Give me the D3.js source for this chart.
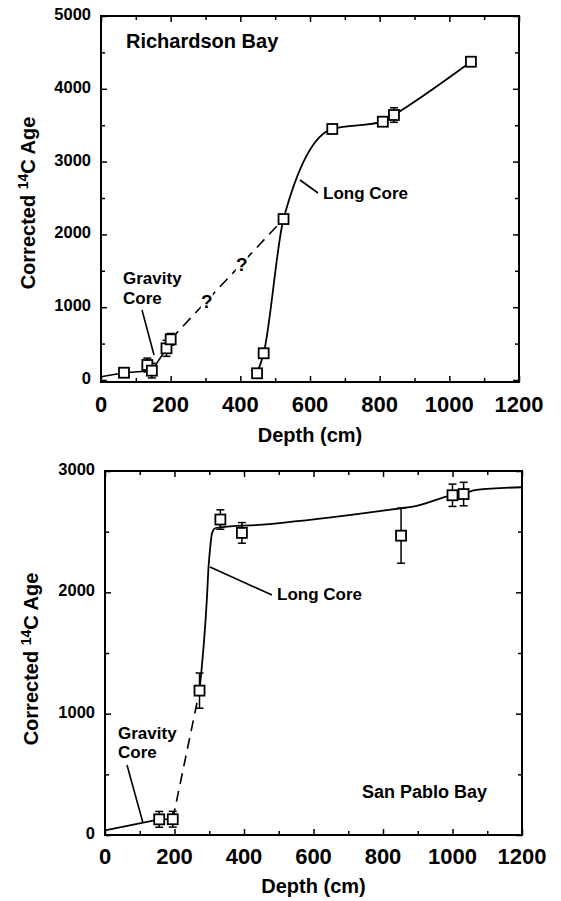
<!DOCTYPE html>
<html>
<head>
<meta charset="utf-8">
<script src="https://cdn.jsdelivr.net/npm/d3@7"></script>
<style>
  html, body { margin: 0; padding: 0; background: #fff; }
  svg { display: block; font-family: "Liberation Sans", Arial, Helvetica, sans-serif; }
</style>
</head>
<body>
<svg id="fig" width="561" height="901"></svg>
<script>
// ---------- Richardson Bay ----------
// dated samples, gravity core
const rbGravDepth = [66, 133, 146, 188, 200];
const rbGravAge   = [100, 206, 128, 435, 559];
const rbGravErr   = [40, 95, 100, 110, 80];
// dated samples, long core
const rbLongDepth = [448, 467, 524, 664, 809, 841, 1062];
const rbLongAge   = [92, 367, 2211, 3448, 3548, 3640, 4372];
const rbLongErr   = [40, 40, 0, 50, 60, 100, 60];
// age-depth lines
const rbGravLineDepth = [0, 66, 146, 188, 200];
const rbGravLineAge   = [45, 100, 128, 435, 559];
const rbLinkDepth = [200, 524];
const rbLinkAge   = [559, 2211];
const rbLongLineDepth = [448, 467, 524, 664, 809, 841, 1062];
const rbLongLineAge   = [92, 367, 2211, 3448, 3548, 3640, 4372];
const rbQuestionAt = [0.32, 0.63];   // fractions along the inferred link
const rbYTicks = [0, 1000, 2000, 3000, 4000, 5000];

// ---------- San Pablo Bay ----------
const spGravDepth = [156, 195];
const spGravAge   = [129, 130];
const spGravErr   = [65, 65];
const spLongDepth = [272, 332, 394, 852, 1000, 1032];
const spLongAge   = [1190, 2600, 2490, 2467, 2800, 2810];
const spLongErr   = [145, 80, 85, 227, 92, 97];
const spGravLineDepth = [0, 156, 195];
const spGravLineAge   = [38, 129, 130];
const spLinkDepth = [195, 272];
const spLinkAge   = [130, 1190];
const spLongLineDepth = [272, 293, 298, 303, 308, 317, 332, 442, 703, 852, 886, 1000, 1032, 1069, 1200];
const spLongLineAge   = [1190, 1937, 2211, 2376, 2487, 2528, 2536, 2556, 2637, 2693, 2706, 2802, 2816, 2844, 2866];
const spYTicks = [0, 1000, 2000, 3000];

const xTicks = [0, 200, 400, 600, 800, 1000, 1200];

const svg = d3.select("#fig");
const zip = (a, b) => a.map((v, i) => [v, b[i]]);

function panel(c) {
  const x = d3.scaleLinear().domain([0, 1200]).range([c.left, c.right]);
  const y = d3.scaleLinear().domain([0, c.yMax]).range([c.zeroY, c.top]);
  const g = svg.append("g");

  // frame
  g.append("rect")
    .attr("x", c.left).attr("y", c.top)
    .attr("width", c.right - c.left).attr("height", c.bottom - c.top)
    .attr("fill", "none").attr("stroke", "#000").attr("stroke-width", 2);

  const minorX = d3.range(100, 1200, 200);
  const minorY = d3.range(500, c.yMax, 1000);
  const tickMarks = (axisFn, scale, vals, size, tx, ty) => {
    g.append("g").attr("transform", `translate(${tx},${ty})`)
      .call(axisFn(scale).tickValues(vals).tickSize(size).tickFormat(""))
      .call(s => s.select(".domain").remove())
      .selectAll("line").attr("stroke-width", 1.5);
  };
  tickMarks(d3.axisBottom, x, xTicks, -6, 0, c.bottom);
  tickMarks(d3.axisBottom, x, minorX, -4, 0, c.bottom);
  tickMarks(d3.axisTop, x, xTicks, -6, 0, c.top);
  tickMarks(d3.axisTop, x, minorX, -4, 0, c.top);
  tickMarks(d3.axisLeft, y, c.yTicks, -6, c.left, 0);
  tickMarks(d3.axisLeft, y, minorY, -4, c.left, 0);
  tickMarks(d3.axisRight, y, c.yTicks, -6, c.right, 0);
  tickMarks(d3.axisRight, y, minorY, -4, c.right, 0);

  // tick labels
  g.append("g").selectAll("text").data(xTicks).join("text")
    .attr("x", d => x(d)).attr("y", c.xLabelY)
    .attr("text-anchor", "middle").attr("font-size", 22).attr("font-weight", "bold")
    .text(d => d);
  g.append("g").selectAll("text").data(c.yTicks).join("text")
    .attr("x", c.left - 10).attr("y", d => y(d) + 4)
    .attr("text-anchor", "end").attr("font-size", 16.5).attr("font-weight", "bold")
    .text(d => d);

  // axis titles
  g.append("text").attr("x", (c.left + c.right) / 2).attr("y", c.xTitleY)
    .attr("text-anchor", "middle").attr("font-size", 20).attr("font-weight", "bold")
    .text("Depth (cm)");
  const yt = g.append("text")
    .attr("transform", `translate(${c.yTitleX},${c.yTitleY}) rotate(-90)`)
    .attr("text-anchor", "middle").attr("font-size", 20).attr("font-weight", "bold");
  yt.append("tspan").text("Corrected ");
  yt.append("tspan").attr("font-size", 14).attr("dy", -7).text("14");
  yt.append("tspan").attr("dy", 7).text("C Age");

  const line = d3.line().x(d => x(d[0])).y(d => y(d[1]));
  const curve = d3.line().x(d => x(d[0])).y(d => y(d[1])).curve(d3.curveMonotoneX);

  // inferred link (dashed)
  g.append("path").datum(zip(c.linkDepth, c.linkAge)).attr("d", line)
    .attr("fill", "none").attr("stroke", "#000").attr("stroke-width", 1.6)
    .attr("stroke-dasharray", "11,7");

  // gravity core and long core lines
  g.append("path").datum(zip(c.gravLineDepth, c.gravLineAge)).attr("d", line)
    .attr("fill", "none").attr("stroke", "#000").attr("stroke-width", 1.6);
  g.append("path").datum(zip(c.longLineDepth, c.longLineAge)).attr("d", curve)
    .attr("fill", "none").attr("stroke", "#000").attr("stroke-width", 1.8);

  // question marks breaking the dashed link
  const qm = (c.questionAt || []).map(t => [
    c.linkDepth[0] + t * (c.linkDepth[1] - c.linkDepth[0]),
    c.linkAge[0] + t * (c.linkAge[1] - c.linkAge[0])
  ]);
  const qg = g.append("g");
  qg.selectAll("rect").data(qm).join("rect")
    .attr("x", d => x(d[0]) - 6).attr("y", d => y(d[1]) - 8)
    .attr("width", 12).attr("height", 16).attr("fill", "#fff");
  qg.selectAll("text").data(qm).join("text")
    .attr("x", d => x(d[0])).attr("y", d => y(d[1]) + 7)
    .attr("text-anchor", "middle")
    .style("font-size", "19px").style("font-weight", "bold").style("fill", "#000")
    .text("?");

  // samples with error bars
  const pts = zip(c.gravDepth, c.gravAge).map((p, i) => ({ d: p[0], a: p[1], e: c.gravErr[i] }))
    .concat(zip(c.longDepth, c.longAge).map((p, i) => ({ d: p[0], a: p[1], e: c.longErr[i] })));
  const eb = g.append("g").attr("stroke", "#000").attr("stroke-width", 1.5);
  pts.filter(p => p.e > 0).forEach(p => {
    eb.append("line").attr("x1", x(p.d)).attr("x2", x(p.d)).attr("y1", y(p.a - p.e)).attr("y2", y(p.a + p.e));
    [p.a - p.e, p.a + p.e].forEach(v =>
      eb.append("line").attr("x1", x(p.d) - 4).attr("x2", x(p.d) + 4).attr("y1", y(v)).attr("y2", y(v)));
  });
  g.append("g").selectAll("rect").data(pts).join("rect")
    .attr("x", p => x(p.d) - 5).attr("y", p => y(p.a) - 5)
    .attr("width", 10).attr("height", 10)
    .attr("fill", "#fff").attr("stroke", "#000").attr("stroke-width", 1.8);

  // annotations
  c.notes.forEach(n => {
    g.append("line").attr("x1", n.lx1).attr("y1", n.ly1).attr("x2", n.lx2).attr("y2", n.ly2)
      .attr("stroke", "#000").attr("stroke-width", 1.6);
  });
  c.texts.forEach(t => {
    g.append("text").attr("x", t.x).attr("y", t.y)
      .attr("font-size", t.size).attr("font-weight", t.weight || "bold").text(t.text);
  });
}

panel({
  left: 101, right: 519, top: 16, bottom: 382, zeroY: 380, yMax: 5000, yTicks: rbYTicks,
  xLabelY: 412, xTitleY: 442, yTitleX: 35, yTitleY: 203,
  gravDepth: rbGravDepth, gravAge: rbGravAge, gravErr: rbGravErr,
  longDepth: rbLongDepth, longAge: rbLongAge, longErr: rbLongErr,
  gravLineDepth: rbGravLineDepth, gravLineAge: rbGravLineAge,
  linkDepth: rbLinkDepth, linkAge: rbLinkAge, questionAt: rbQuestionAt,
  longLineDepth: rbLongLineDepth, longLineAge: rbLongLineAge,
  notes: [
    { lx1: 142, ly1: 310, lx2: 154, ly2: 355 },
    { lx1: 300, ly1: 180, lx2: 318, ly2: 193 }
  ],
  texts: [
    { x: 126, y: 48, size: 20, text: "Richardson Bay" },
    { x: 123, y: 284, size: 17, text: "Gravity" },
    { x: 123, y: 304, size: 17, text: "Core" },
    { x: 323, y: 199, size: 17, text: "Long Core" }
  ]
});

panel({
  left: 105, right: 522, top: 471, bottom: 835, zeroY: 835, yMax: 3000, yTicks: spYTicks,
  xLabelY: 864, xTitleY: 893, yTitleX: 38, yTitleY: 659,
  gravDepth: spGravDepth, gravAge: spGravAge, gravErr: spGravErr,
  longDepth: spLongDepth, longAge: spLongAge, longErr: spLongErr,
  gravLineDepth: spGravLineDepth, gravLineAge: spGravLineAge,
  linkDepth: spLinkDepth, linkAge: spLinkAge,
  longLineDepth: spLongLineDepth, longLineAge: spLongLineAge,
  notes: [
    { lx1: 127, ly1: 765, lx2: 143, ly2: 823 },
    { lx1: 210, ly1: 567, lx2: 272, ly2: 595 }
  ],
  texts: [
    { x: 362, y: 798, size: 18, text: "San Pablo Bay" },
    { x: 118, y: 739, size: 17, text: "Gravity" },
    { x: 118, y: 758, size: 17, text: "Core" },
    { x: 277, y: 600, size: 17, text: "Long Core" }
  ]
});
</script>
</body>
</html>
